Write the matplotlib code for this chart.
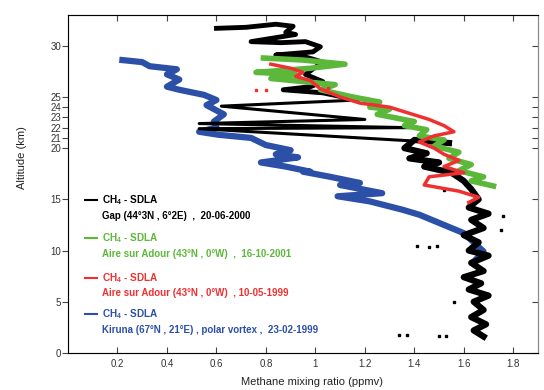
#CH4 vertical profiles measured by SDLA balloon flights
import matplotlib.pyplot as plt
from matplotlib.lines import Line2D

plt.rcParams['font.family'] = ['Liberation Sans', 'DejaVu Sans']
plt.rcParams['mathtext.fontset'] = 'custom'
plt.rcParams['mathtext.rm'] = 'Liberation Sans'
plt.rcParams['mathtext.bf'] = 'Liberation Sans:bold'

#profiles: (mixing ratio ppmv, altitude km)
gap_ch4 = [0.60, 0.72, 0.84, 0.91, 0.88, 0.92, 0.74, 0.86, 0.96, 1.02, 0.99, 0.84, 0.96, 1.03,
           1.00, 0.96, 1.03, 0.98, 0.87, 1.03, 1.17, 0.62, 1.20, 0.53, 1.38, 0.53, 1.54,
           1.40, 1.36, 1.45, 1.38, 1.50, 1.44, 1.55, 1.60, 1.63, 1.66, 1.62, 1.70, 1.63, 1.68,
           1.60, 1.66, 1.62, 1.70, 1.63, 1.68, 1.60, 1.67, 1.62, 1.70, 1.64, 1.68, 1.63, 1.69,
           1.64, 1.68]
gap_alt = [31.7, 31.8, 32.1, 31.9, 31.3, 31.1, 30.4, 30.3, 30.4, 29.9, 29.4, 29.1, 28.9, 28.4,
           27.9, 27.2, 26.5, 26.0, 25.7, 25.4, 24.7, 24.1, 22.8, 22.4, 22.0, 21.9, 20.5,
           20.8, 20.0, 19.5, 19.0, 18.6, 18.2, 17.6, 16.8, 16.0, 15.0, 14.2, 13.6, 13.0, 12.2,
           11.5, 10.8, 10.0, 9.5, 8.8, 8.0, 7.4, 6.8, 6.2, 5.6, 5.0, 4.2, 3.5, 2.8,
           2.2, 1.6]
gap_out_ch4 = [1.34, 1.37, 1.50, 1.53, 1.41, 1.46, 1.49, 1.76, 1.75, 1.52, 1.56]
gap_out_alt = [1.8, 1.8, 1.7, 1.7, 10.4, 10.3, 10.4, 13.4, 12.0, 15.9, 5.0]

aire01_ch4 = [0.79, 0.95, 1.12, 0.98, 0.76, 0.92, 0.82, 1.08, 1.02, 1.15, 1.26, 1.22, 1.30,
              1.25, 1.40, 1.36, 1.45, 1.42, 1.52, 1.48, 1.58, 1.54, 1.63, 1.58, 1.68, 1.63, 1.72]
aire01_alt = [28.8, 28.6, 28.2, 27.8, 27.4, 27.2, 26.8, 26.2, 25.7, 25.0, 24.5, 24.0, 23.8,
              23.3, 22.6, 22.2, 21.8, 21.2, 20.8, 20.2, 19.6, 19.0, 18.4, 17.8, 17.2, 16.8, 16.3]

aire99_ch4 = [0.82, 0.90, 0.95, 0.92, 0.98, 1.02, 1.10, 1.18, 1.30, 1.38, 1.46, 1.52, 1.56,
              1.48, 1.42, 1.48, 1.52, 1.58, 1.52, 1.60, 1.46, 1.44, 1.58, 1.66, 1.62]
aire99_alt = [28.2, 27.8, 27.4, 27.0, 26.6, 25.8, 25.0, 24.4, 24.0, 23.4, 22.8, 22.2, 21.6,
              21.2, 20.6, 20.0, 19.4, 18.8, 18.2, 17.6, 17.2, 16.4, 15.8, 15.2, 14.7]
aire99_out_ch4 = [0.76, 0.80, 1.05]
aire99_out_alt = [25.7, 25.7, 25.9]

kiruna_ch4 = [0.22, 0.30, 0.33, 0.44, 0.40, 0.45, 0.40, 0.45, 0.55, 0.60, 0.56, 0.63, 0.59,
              0.60, 0.53, 0.61, 0.74, 0.80, 0.90, 0.84, 0.93, 0.78, 0.88, 0.98, 0.95, 1.06,
              1.18, 1.10, 1.27, 1.09, 1.22, 1.35, 1.42, 1.50, 1.60, 1.68, 1.64]
kiruna_alt = [28.6, 28.4, 28.0, 27.7, 27.2, 26.7, 26.0, 25.7, 25.2, 24.7, 24.2, 23.3, 22.6,
              22.0, 21.6, 21.3, 21.0, 20.3, 19.8, 19.4, 19.1, 18.6, 18.2, 17.7, 17.7, 17.2,
              16.6, 16.4, 15.6, 15.3, 14.8, 14.0, 13.5, 12.7, 11.7, 9.9, 8.9]

c_gap = '#000000'
c_aire01 = '#5cb83a'
c_aire99 = '#f03030'
c_kiruna = '#2c50a8'

legend_top = [r'CH$_{\bf 4}$ - SDLA'] * 4
legend_bottom = ['Gap (44°3N , 6°2E)  ,  20-06-2000',
                 'Aire sur Adour (43°N , 0°W)  ,  16-10-2001',
                 'Aire sur Adour (43°N , 0°W)  , 10-05-1999',
                 'Kiruna (67°N , 21°E) , polar vortex ,  23-02-1999']
legend_colors = [c_gap, c_aire01, c_aire99, c_kiruna]

yticks = [0, 5, 10, 15, 20, 21, 22, 23, 24, 25, 30]
xticks = [0.2, 0.4, 0.6, 0.8, 1, 1.2, 1.4, 1.6, 1.8]

fig = plt.figure(figsize=(5.44, 3.90), dpi=100)
ax = fig.add_axes([0.125, 0.095, 0.864, 0.8665])

ax.plot(kiruna_ch4, kiruna_alt, color=c_kiruna, lw=4.5)
ax.plot(gap_ch4[:21], gap_alt[:21], color=c_gap, lw=3.5)
ax.plot(gap_ch4[20:27], gap_alt[20:27], color=c_gap, lw=2.2)
ax.plot(gap_ch4[26:], gap_alt[26:], color=c_gap, lw=4.5)
ax.plot(gap_out_ch4, gap_out_alt, 's', color=c_gap, ms=1.8, lw=0)
ax.plot(aire01_ch4, aire01_alt, color=c_aire01, lw=4)
ax.plot(aire99_ch4, aire99_alt, color=c_aire99, lw=2.5)
ax.plot(aire99_out_ch4, aire99_out_alt, 's', color=c_aire99, ms=1.5, lw=0)

ax.set_xlim(0, 1.9)
ax.set_ylim(0, 33)
ax.set_xticks(xticks)
ax.set_xticklabels(['0.2', '0.4', '0.6', '0.8', '1', '1.2', '1.4', '1.6', '1.8'])
ax.set_yticks(yticks)
ax.tick_params(axis='x', direction='in', top=True, length=4, pad=4,
               labelsize=7, colors='#444444', labelcolor='#333333')
ax.tick_params(axis='y', direction='out', length=4, pad=1,
               labelsize=7, colors='#444444', labelcolor='#333333')
for sp in ax.spines.values():
    sp.set_color('#8a8a8a')
    sp.set_linewidth(0.8)

#inward ticks on the right
ax2 = ax.twinx()
ax2.set_ylim(ax.get_ylim())
ax2.set_yticks(yticks)
ax2.tick_params(axis='y', direction='in', length=4, labelright=False, colors='#444444')
ax2.spines['right'].set_color('#8a8a8a')

ax.set_xlabel('Methane mixing ratio (ppmv)', fontsize=8, color='#222222')
ax.xaxis.set_label_coords(0.519, -0.071)
ax.set_ylabel('Altitude (km)', fontsize=8, color='#222222')
ax.yaxis.set_label_coords(-0.088, 0.577)

#legend written inside the axes
top_y = [0.453, 0.340, 0.222, 0.115]
bot_y = [0.405, 0.293, 0.178, 0.068]
for t1, t2, c, y1, y2 in zip(legend_top, legend_bottom, legend_colors, top_y, bot_y):
    ax.add_line(Line2D([0.036, 0.062], [y1, y1], color=c, lw=1.5, transform=ax.transAxes))
    ax.text(0.072, y1, t1, color=c, fontsize=7.2, fontweight='bold', va='center',
            transform=ax.transAxes)
    ax.text(0.072, y2, t2, color=c, fontsize=7.0, fontweight='bold', va='center',
            transform=ax.transAxes)

fig.savefig('out.png', dpi=100)
